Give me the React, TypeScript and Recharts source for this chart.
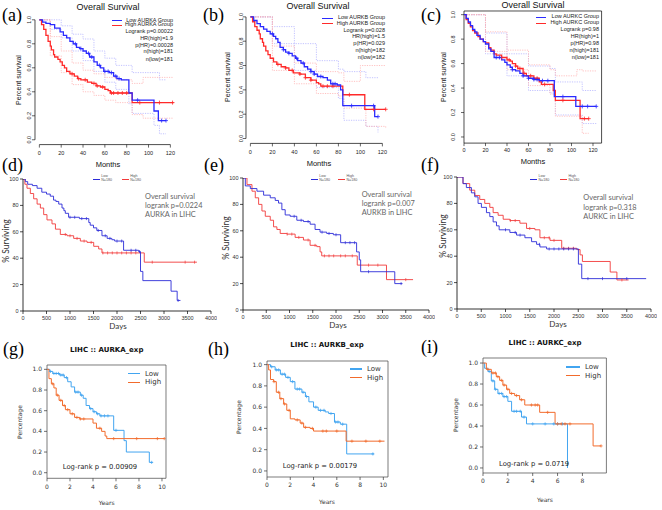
import React from "react";
import { ComposedChart, Line, Scatter, XAxis, YAxis, ReferenceLine, ReferenceArea } from "recharts";

type Pt = [number, number];

// ---------- (a)-(c): overall survival, months ----------
const monthTicks = [0, 20, 40, 60, 80, 100, 120];
const fracTicks = [0, 0.2, 0.4, 0.6, 0.8, 1.0];

const aLow: Pt[] = [[0, 1], [3, 0.98], [6, 0.97], [10, 0.96], [14, 0.93], [19, 0.9], [22, 0.87], [25, 0.85], [28, 0.82], [31, 0.8], [34, 0.77], [37, 0.76], [40, 0.74], [43, 0.72], [46, 0.69], [50, 0.65], [53, 0.62], [56, 0.6], [59, 0.57], [64, 0.56], [68, 0.53], [71, 0.51], [75, 0.5], [82, 0.39], [85, 0.33], [105, 0.24], [109, 0.16], [116, 0.16]];
const aHigh: Pt[] = [[0, 1], [2, 0.96], [4, 0.92], [6, 0.87], [8, 0.82], [10, 0.78], [11, 0.75], [13, 0.71], [14, 0.69], [17, 0.67], [19, 0.65], [21, 0.62], [23, 0.6], [25, 0.57], [28, 0.55], [32, 0.53], [35, 0.51], [38, 0.5], [44, 0.48], [48, 0.47], [52, 0.45], [56, 0.44], [60, 0.42], [63, 0.41], [65, 0.39], [85, 0.31], [123, 0.31]];
const aLowUp: Pt[] = [[0, 1], [10, 1], [20, 0.95], [30, 0.88], [40, 0.84], [50, 0.74], [60, 0.68], [70, 0.62], [82, 0.62], [85, 0.56], [105, 0.56], [110, 0.5], [116, 0.5]];
const aLowLo: Pt[] = [[0, 1], [10, 0.92], [20, 0.85], [30, 0.74], [40, 0.66], [50, 0.57], [60, 0.48], [70, 0.42], [82, 0.3], [85, 0.22], [105, 0.12], [110, 0.05], [116, 0.05]];
const aHighUp: Pt[] = [[0, 1], [10, 0.86], [20, 0.74], [30, 0.64], [40, 0.58], [50, 0.55], [60, 0.52], [70, 0.5], [85, 0.47], [95, 0.52], [123, 0.52]];
const aHighLo: Pt[] = [[0, 1], [10, 0.7], [20, 0.56], [30, 0.46], [40, 0.4], [50, 0.37], [60, 0.33], [70, 0.31], [85, 0.21], [95, 0.18], [123, 0.18]];
const aLowCens = [33, 38, 45, 48, 55, 60, 63, 66, 70, 73, 90, 112, 116];
const aHighCens = [30, 36, 42, 50, 53, 58, 66, 68, 72, 76, 80, 92, 110, 122];

const bLow: Pt[] = [[0, 1], [3, 0.97], [6, 0.945], [9, 0.92], [12, 0.9], [15, 0.88], [18, 0.86], [21, 0.84], [23, 0.82], [25, 0.79], [27, 0.75], [30, 0.73], [32, 0.71], [35, 0.7], [38, 0.68], [41, 0.66], [43, 0.64], [46, 0.62], [49, 0.59], [52, 0.57], [55, 0.55], [58, 0.53], [61, 0.51], [66, 0.5], [70, 0.48], [73, 0.45], [79, 0.44], [82, 0.4], [84, 0.27], [113, 0.18], [116, 0.18]];
const bHigh: Pt[] = [[0, 1], [2, 0.96], [4, 0.92], [6, 0.89], [8, 0.86], [9, 0.82], [11, 0.79], [12, 0.76], [14, 0.72], [16, 0.69], [18, 0.66], [21, 0.63], [24, 0.61], [28, 0.59], [32, 0.58], [35, 0.56], [39, 0.54], [45, 0.53], [50, 0.5], [55, 0.48], [60, 0.46], [62, 0.45], [64, 0.43], [84, 0.36], [104, 0.24], [123, 0.24]];
const bLowUp: Pt[] = [[0, 1], [20, 0.92], [40, 0.78], [60, 0.64], [80, 0.57], [85, 0.55], [105, 0.5], [116, 0.5]];
const bLowLo: Pt[] = [[0, 1], [20, 0.78], [40, 0.56], [60, 0.42], [80, 0.33], [85, 0.15], [105, 0.1], [116, 0.05]];
const bHighUp: Pt[] = [[0, 1], [20, 0.76], [40, 0.62], [60, 0.55], [80, 0.54], [85, 0.47], [100, 0.6], [123, 0.6]];
const bHighLo: Pt[] = [[0, 1], [20, 0.56], [40, 0.45], [60, 0.37], [80, 0.35], [85, 0.25], [105, 0.1], [123, 0.08]];
const bLowCens = [20, 30, 35, 42, 48, 55, 58, 64, 75, 77, 92, 112, 116];
const bHighCens = [25, 32, 38, 45, 50, 55, 66, 70, 75, 90, 112, 123];

const cLow: Pt[] = [[0, 1], [2, 0.97], [4, 0.94], [6, 0.91], [8, 0.88], [10, 0.86], [12, 0.83], [15, 0.8], [18, 0.78], [20, 0.76], [23, 0.72], [25, 0.7], [28, 0.65], [35, 0.63], [38, 0.61], [40, 0.59], [43, 0.57], [45, 0.55], [48, 0.54], [52, 0.52], [55, 0.5], [60, 0.48], [65, 0.47], [70, 0.46], [84, 0.33], [104, 0.25], [123, 0.25]];
const cHigh: Pt[] = [[0, 1], [2, 0.96], [4, 0.93], [6, 0.9], [8, 0.87], [10, 0.85], [13, 0.82], [15, 0.8], [18, 0.78], [20, 0.77], [23, 0.73], [25, 0.71], [28, 0.68], [30, 0.67], [35, 0.65], [40, 0.63], [43, 0.62], [45, 0.6], [48, 0.58], [50, 0.56], [55, 0.52], [58, 0.5], [65, 0.48], [70, 0.45], [72, 0.43], [83, 0.38], [85, 0.3], [108, 0.15], [116, 0.15]];
const cLowUp: Pt[] = [[0, 1], [20, 0.85], [40, 0.68], [60, 0.58], [80, 0.56], [85, 0.45], [105, 0.45], [110, 0.38], [123, 0.38]];
const cLowLo: Pt[] = [[0, 1], [20, 0.68], [40, 0.5], [60, 0.38], [80, 0.36], [85, 0.18], [105, 0.18], [110, 0.11], [123, 0.11]];
const cHighUp: Pt[] = [[0, 1], [20, 0.86], [40, 0.71], [60, 0.59], [80, 0.55], [85, 0.5], [105, 0.55], [110, 0.54], [123, 0.54]];
const cHighLo: Pt[] = [[0, 1], [20, 0.7], [40, 0.55], [60, 0.42], [80, 0.35], [85, 0.17], [105, 0.17], [110, 0.03], [116, 0.03]];
const cLowCens = [30, 33, 45, 55, 60, 65, 68, 73, 78, 92, 110, 115, 123];
const cHighCens = [35, 42, 48, 52, 56, 62, 68, 75, 92, 112, 116];

const aStats = ["Low AURKA Group", "High AURKA Group", "Logrank p=0.00022", "HR(high)=1.9", "p(HR)=0.00028", "n(high)=181", "n(low)=181"];
const bStats = ["Low AURKB Group", "High AURKB Group", "Logrank p=0.028", "HR(high)=1.5", "p(HR)=0.029", "n(high)=182", "n(low)=182"];
const cStats = ["Low AURKC Group", "High AURKC Group", "Logrank p=0.98", "HR(high)=1", "p(HR)=0.98", "n(high)=181", "n(low)=181"];

// ---------- (d)-(f): % surviving, days ----------
const dayTicks = [0, 500, 1000, 1500, 2000, 2500, 3000, 3500, 4000];
const pctTicks = [0, 20, 40, 60, 80, 100];

const dLow: Pt[] = [[0, 100], [50, 98], [100, 96], [200, 95], [300, 93], [400, 90], [500, 88.6], [580, 87], [650, 84], [700, 83], [760, 81], [830, 78], [870, 76], [900, 74], [970, 71], [1200, 70], [1400, 67], [1430, 65], [1500, 63], [1570, 61], [1680, 57], [1790, 55], [1890, 54], [1950, 53], [2140, 46], [2460, 45], [2500, 30], [2550, 23], [3150, 15], [3280, 8], [3350, 8]];
const dHigh: Pt[] = [[0, 100], [40, 96], [85, 93], [156, 89], [227, 85], [300, 81], [370, 78], [440, 73], [510, 69], [617, 66], [690, 62], [794, 58], [936, 57], [1078, 55], [1220, 53], [1362, 52], [1504, 49], [1610, 47], [1680, 44], [2580, 37], [3700, 37]];
const dLowCens = [1000, 1100, 1250, 1350, 1600, 1750, 1850, 2000, 2100, 2300, 2400, 2480, 3300];
const dHighCens = [900, 1000, 1150, 1300, 1450, 1700, 1800, 1900, 2000, 2100, 2200, 2300, 2400, 2750, 3450, 3650];

const eLow: Pt[] = [[0, 100], [50, 94], [157, 92], [300, 90], [443, 87], [586, 85], [693, 83], [764, 81], [836, 76], [907, 72], [1014, 71], [1157, 68], [1300, 67], [1443, 65], [1550, 61], [1657, 59], [1800, 58], [1943, 57], [2100, 51], [2443, 44], [2500, 38], [2530, 29], [3264, 20], [3430, 20]];
const eHigh: Pt[] = [[0, 100], [86, 95], [193, 90], [264, 85], [336, 80], [407, 75], [479, 71], [586, 68], [657, 63], [729, 61], [800, 58], [943, 57.5], [1121, 55], [1300, 53], [1443, 49], [1586, 48], [1657, 44], [1693, 41], [2457, 34], [3086, 23], [3657, 23]];
const eLowCens = [1100, 1250, 1400, 1700, 1850, 2000, 2200, 2300, 2400, 2700, 3400];
const eHighCens = [950, 1050, 1200, 1400, 1550, 1750, 1850, 1950, 2100, 2200, 2350, 2700, 2900, 3500];

const fLow: Pt[] = [[0, 100], [124, 95], [193, 92], [297, 88], [366, 85], [434, 80], [503, 77], [607, 73], [676, 70], [745, 66], [814, 63], [869, 60], [1090, 58], [1228, 56], [1400, 54], [1538, 51], [1641, 49], [1710, 47], [1848, 45.5], [2503, 34], [2572, 23], [3900, 23]];
const fHigh: Pt[] = [[0, 100], [124, 95], [262, 90], [366, 86], [469, 83], [572, 80], [676, 77], [745, 73], [848, 71], [952, 68], [1090, 67], [1297, 65], [1434, 61], [1607, 60], [1710, 54], [1917, 52], [2159, 46], [2469, 45], [2538, 41], [2586, 36], [3159, 28], [3297, 22], [3538, 22]];
const fLowCens = [1000, 1200, 1300, 1700, 1900, 2000, 2100, 2200, 2300, 2400, 2700, 3000, 3500];
const fHighCens = [1100, 1200, 1500, 1800, 1900, 2000, 2200, 2300, 2400, 3400];

const dNotes = ["Overall survival", "logrank p=0.0224", "AURKA in LIHC"];
const eNotes = ["Overall survival", "logrank p=0.007", "AURKB in LIHC"];
const fNotes = ["Overall survival", "logrank p=0.318", "AURKC in LIHC"];

// ---------- (g)-(i): percentage, years ----------
const yearTicks10 = [0, 2, 4, 6, 8, 10];
const yearTicks8 = [0, 2, 4, 6, 8];

const gLow: Pt[] = [[0, 1], [0.23, 0.98], [0.5, 0.96], [1.1, 0.945], [1.5, 0.92], [1.8, 0.88], [2.1, 0.83], [2.4, 0.78], [2.9, 0.75], [3.15, 0.72], [3.4, 0.65], [3.7, 0.62], [4.0, 0.59], [4.3, 0.57], [4.6, 0.55], [5.8, 0.41], [6.7, 0.31], [6.9, 0.2], [8.9, 0.1], [9.2, 0.1]];
const gHigh: Pt[] = [[0, 1], [0.17, 0.91], [0.38, 0.86], [0.6, 0.82], [0.8, 0.75], [1.05, 0.7], [1.35, 0.65], [1.6, 0.61], [2.0, 0.57], [2.4, 0.535], [2.85, 0.52], [4.0, 0.48], [4.3, 0.43], [4.75, 0.4], [5.05, 0.355], [5.2, 0.33], [10.2, 0.33]];
const gLowCens = [0.3, 0.6, 0.8, 1.0, 1.2, 1.4, 1.7, 2.5, 2.7, 3.0, 3.8, 4.1, 4.4, 4.7, 5.0, 5.3, 6.0, 9.1];
const gHighCens = [0.5, 0.9, 1.2, 1.5, 1.8, 2.2, 2.6, 2.9, 3.2, 4.6, 5.8, 7.8, 9.6, 10.2];

const hLow: Pt[] = [[0, 1], [0.3, 0.98], [0.7, 0.95], [1.15, 0.91], [1.6, 0.88], [2.0, 0.84], [2.4, 0.77], [3.0, 0.74], [3.3, 0.7], [3.6, 0.65], [4.0, 0.6], [4.4, 0.57], [5.0, 0.555], [5.3, 0.54], [5.8, 0.46], [6.3, 0.44], [6.85, 0.16], [9.2, 0.16]];
const hHigh: Pt[] = [[0, 1], [0.14, 0.95], [0.3, 0.86], [0.57, 0.84], [0.8, 0.74], [1.1, 0.68], [1.43, 0.63], [1.7, 0.57], [2.0, 0.49], [2.4, 0.48], [2.85, 0.45], [3.15, 0.41], [3.7, 0.4], [4.0, 0.375], [6.8, 0.28], [10.1, 0.28]];
const hLowCens = [0.4, 0.8, 1.0, 1.3, 1.5, 1.8, 2.2, 2.6, 2.8, 3.1, 3.4, 4.2, 4.6, 4.9, 5.5, 5.9, 6.1, 6.5, 9.1];
const hHighCens = [0.6, 1.0, 1.2, 1.5, 1.9, 2.6, 3.0, 3.3, 3.9, 4.8, 5.1, 6.0, 7.3, 8.5, 9.7];

const iLow: Pt[] = [[0, 1], [0.13, 0.95], [0.4, 0.92], [0.67, 0.83], [0.94, 0.75], [1.2, 0.71], [1.6, 0.68], [2.0, 0.635], [2.3, 0.54], [3.1, 0.485], [3.5, 0.42], [6.8, 0.0]];
const iHigh: Pt[] = [[0, 1], [0.27, 0.94], [0.67, 0.905], [1.07, 0.87], [1.34, 0.835], [1.6, 0.79], [1.9, 0.75], [2.15, 0.71], [2.55, 0.69], [2.95, 0.65], [3.36, 0.6], [4.56, 0.53], [5.8, 0.42], [8.86, 0.21], [9.5, 0.21]];
const iLowCens = [0.5, 0.8, 1.0, 1.3, 1.5, 1.7, 1.9, 2.5, 2.7, 3.0, 3.3, 4.0, 5.0, 5.7, 6.0, 6.4];
const iHighCens = [0.4, 0.8, 1.0, 1.2, 1.5, 1.7, 2.0, 2.3, 2.7, 3.1, 3.9, 4.2, 4.4, 5.2, 6.0, 6.3, 6.6, 7.0, 9.5];

// ---------- helpers ----------
const rows = (pts: Pt[]) => pts.map(([t, s]) => ({ t, s }));
const survAt = (pts: Pt[], t: number) => {
  let s = pts[0][1];
  for (const [pt, ps] of pts) if (pt <= t) s = ps;
  return s;
};
const censRows = (pts: Pt[], times: number[]) => times.map((t) => ({ t, s: survAt(pts, t) }));

const plus = (color: string, r: number, w = 0.8) => (p: any) => (
  <path d={`M${p.cx - r},${p.cy}H${p.cx + r}M${p.cx},${p.cy - r}V${p.cy + r}`} stroke={color} strokeWidth={w} fill="none" />
);
const vtick = (color: string, r: number) => (p: any) => (
  <path d={`M${p.cx},${p.cy - r}V${p.cy + r}`} stroke={color} strokeWidth={0.7} fill="none" />
);

const R_FONT = "'Liberation Sans', Arial, sans-serif";
const P_FONT = "Lato, 'Open Sans', sans-serif";
const Y_FONT = "'DejaVu Sans', sans-serif";
const SERIF = "'Liberation Serif', 'DejaVu Serif', serif";

const PL = 36, PR = 6, PT = 6, PB = 24;

const T = ({ x, y, children, size, font, color = "#000", anchor = "start", weight = 400, rotate = false }: any) => {
  const tx = anchor === "middle" ? "-50%" : anchor === "end" ? "-100%" : "0";
  return (
    <div
      style={{
        position: "absolute", left: x, top: y, fontSize: size, fontFamily: font, color, fontWeight: weight,
        whiteSpace: "nowrap", lineHeight: 1, transform: `translate(${rotate ? "-50%" : tx}, -50%)${rotate ? " rotate(-90deg)" : ""}`,
      }}
    >
      {children}
    </div>
  );
};

const Seg = ({ x1, x2, y, color, w = 1 }: any) => (
  <div style={{ position: "absolute", left: x1, top: y - w / 2, width: x2 - x1, height: w, background: color }} />
);

const RYTick = (p: any) => (
  <text x={p.x} y={p.y} transform={`rotate(-90 ${p.x} ${p.y})`} textAnchor="middle" fontSize={5.5} fill="#222" fontFamily={R_FONT}>
    {Number(p.payload.value).toFixed(1)}
  </text>
);

// ---------- layout ----------
const R_BLUE = "#2a2aff", R_RED = "#ff2a2a", R_BLUE_CI = "#b4b4ff", R_RED_CI = "#ffb2b2";
const P_BLUE = "#2b2bd8", P_RED = "#f23a3a";
const Y_BLUE = "#42a5f0", Y_RED = "#f26b2c";

const layA = { rect: [34.9, 15.2, 179.0, 144.8], xDom: [-4, 128], yDom: [-0.04, 1.04], box: false, yMargin: 1, xMargin: 4 };
const layB = { rect: [245.6, 11.8, 390.8, 143.2], xDom: [-4, 128], yDom: [-0.04, 1.04], box: false, yMargin: 0, xMargin: 4 };
const layC = { rect: [464, 11.3, 601.6, 143.4], xDom: [0, 128], yDom: [-0.05, 1.03], box: true, yMargin: 6, xMargin: 2.3 };

const layD = { rect: [23, 179, 211, 311] };
const layE = { rect: [243, 178, 429, 310] };
const layF = { rect: [457, 177, 651, 309] };

const layG = { rect: [47, 365, 166, 478.3], xDom: [0, 10.35], yDom: [-0.054, 1.042] };
const layH = { rect: [267, 360.7, 388, 476.7], xDom: [0, 10.4], yDom: [-0.057, 1.034] };
const layI = { rect: [483.3, 358.3, 606.7, 473.3], xDom: [0, 9.93], yDom: [-0.048, 1.048] };

function RPanel({ L, S }: any) {
  const [x0, y0, x1, y1] = L.rect;
  const yMin = L.yDom[0];
  const ci = (pts: Pt[], color: string, k: string) => (
    <Line key={k} data={rows(pts)} dataKey="s" type="stepAfter" stroke={color} strokeWidth={0.8} strokeDasharray="1.2 1.2" dot={false} activeDot={false} isAnimationActive={false} />
  );
  return (
    <div style={{ position: "absolute", left: x0 - PL, top: y0 - PT }}>
      <ComposedChart width={x1 - x0 + PL + PR} height={y1 - y0 + PT + PB} margin={{ top: PT, right: PR, bottom: 0, left: 0 }}>
        <XAxis type="number" dataKey="t" domain={L.xDom} ticks={monthTicks} allowDataOverflow height={PB} interval={0}
          axisLine={false} tickLine={{ stroke: "#000", strokeWidth: 0.6 }} tickSize={3} tickMargin={L.xMargin}
          tick={{ fontSize: 5.5, fill: "#222", fontFamily: R_FONT }} />
        <YAxis type="number" dataKey="s" domain={L.yDom} ticks={fracTicks} allowDataOverflow width={PL} interval={0}
          axisLine={false} tickLine={{ stroke: "#000", strokeWidth: 0.6 }} tickSize={3} tickMargin={L.yMargin}
          tick={(p: any) => <RYTick {...p} />} />
        {L.box ? (
          <ReferenceArea x1={L.xDom[0]} x2={L.xDom[1]} y1={L.yDom[0]} y2={L.yDom[1]} fill="none" fillOpacity={0} stroke="#000" strokeWidth={0.7} ifOverflow="visible" />
        ) : null}
        {!L.box ? (
          <ReferenceLine segment={[{ x: monthTicks[0], y: yMin }, { x: monthTicks[monthTicks.length - 1], y: yMin }]} stroke="#000" strokeWidth={0.7} ifOverflow="visible" />
        ) : null}
        {!L.box ? (
          <ReferenceLine segment={[{ x: L.xDom[0], y: fracTicks[0] }, { x: L.xDom[0], y: fracTicks[fracTicks.length - 1] }]} stroke="#000" strokeWidth={0.7} ifOverflow="visible" />
        ) : null}
        {ci(S.lowUp, R_BLUE_CI, "lu")}
        {ci(S.lowLo, R_BLUE_CI, "ll")}
        {ci(S.highUp, R_RED_CI, "hu")}
        {ci(S.highLo, R_RED_CI, "hl")}
        <Line data={rows(S.high)} dataKey="s" type="stepAfter" stroke={R_RED} strokeWidth={1.3} dot={false} activeDot={false} isAnimationActive={false} />
        <Line data={rows(S.low)} dataKey="s" type="stepAfter" stroke={R_BLUE} strokeWidth={1.3} dot={false} activeDot={false} isAnimationActive={false} />
        <Scatter data={censRows(S.high, S.highC)} dataKey="s" shape={plus(R_RED, 2)} isAnimationActive={false} />
        <Scatter data={censRows(S.low, S.lowC)} dataKey="s" shape={plus(R_BLUE, 2)} isAnimationActive={false} />
      </ComposedChart>
    </div>
  );
}

function PPanel({ L, S }: any) {
  const [x0, y0, x1, y1] = L.rect;
  return (
    <div style={{ position: "absolute", left: x0 - PL, top: y0 - PT }}>
      <ComposedChart width={x1 - x0 + PL + PR} height={y1 - y0 + PT + PB} margin={{ top: PT, right: PR, bottom: 0, left: 0 }}>
        <XAxis type="number" dataKey="t" domain={[dayTicks[0], dayTicks[dayTicks.length - 1]]} ticks={dayTicks} allowDataOverflow height={PB} interval={0}
          axisLine={{ stroke: "#000", strokeWidth: 0.8 }} tickLine={{ stroke: "#000", strokeWidth: 0.7 }} tickSize={3} tickMargin={2}
          tick={{ fontSize: 5.5, fill: "#333", fontFamily: R_FONT }} />
        <YAxis type="number" dataKey="s" domain={[pctTicks[0], pctTicks[pctTicks.length - 1]]} ticks={pctTicks} allowDataOverflow width={PL} interval={0}
          axisLine={{ stroke: "#000", strokeWidth: 0.8 }} tickLine={{ stroke: "#000", strokeWidth: 0.7 }} tickSize={3} tickMargin={1.5}
          tick={{ fontSize: 5.5, fill: "#333", fontFamily: R_FONT }} />
        <Line data={rows(S.high)} dataKey="s" type="stepAfter" stroke={P_RED} strokeWidth={0.9} dot={false} activeDot={false} isAnimationActive={false} />
        <Line data={rows(S.low)} dataKey="s" type="stepAfter" stroke={P_BLUE} strokeWidth={0.9} dot={false} activeDot={false} isAnimationActive={false} />
        <Scatter data={censRows(S.high, S.highC)} dataKey="s" shape={vtick(P_RED, 1.5)} isAnimationActive={false} />
        <Scatter data={censRows(S.low, S.lowC)} dataKey="s" shape={vtick(P_BLUE, 1.5)} isAnimationActive={false} />
      </ComposedChart>
    </div>
  );
}

function YPanel({ L, S, ticks }: any) {
  const [x0, y0, x1, y1] = L.rect;
  return (
    <div style={{ position: "absolute", left: x0 - PL, top: y0 - PT }}>
      <ComposedChart width={x1 - x0 + PL + PR} height={y1 - y0 + PT + PB} margin={{ top: PT, right: PR, bottom: 0, left: 0 }}>
        <XAxis type="number" dataKey="t" domain={L.xDom} ticks={ticks} allowDataOverflow height={PB} interval={0}
          axisLine={false} tickLine={{ stroke: "#333", strokeWidth: 0.7 }} tickSize={3} tickMargin={3}
          tick={{ fontSize: 6, fill: "#333", fontFamily: Y_FONT }} />
        <YAxis type="number" dataKey="s" domain={L.yDom} ticks={fracTicks} allowDataOverflow width={PL} interval={0}
          axisLine={false} tickLine={{ stroke: "#333", strokeWidth: 0.7 }} tickSize={3} tickMargin={2}
          tickFormatter={(v: number) => v.toFixed(1)} tick={{ fontSize: 6, fill: "#333", fontFamily: Y_FONT }} />
        <ReferenceArea x1={L.xDom[0]} x2={L.xDom[1]} y1={L.yDom[0]} y2={L.yDom[1]} fill="none" fillOpacity={0} stroke="#444" strokeWidth={0.7} ifOverflow="visible" />
        <Line data={rows(S.low)} dataKey="s" type="stepAfter" stroke={Y_BLUE} strokeWidth={1} dot={false} activeDot={false} isAnimationActive={false} />
        <Line data={rows(S.high)} dataKey="s" type="stepAfter" stroke={Y_RED} strokeWidth={1} dot={false} activeDot={false} isAnimationActive={false} />
        <Scatter data={censRows(S.low, S.lowC)} dataKey="s" shape={plus(Y_BLUE, 1.6, 0.7)} isAnimationActive={false} />
        <Scatter data={censRows(S.high, S.highC)} dataKey="s" shape={plus(Y_RED, 1.6, 0.7)} isAnimationActive={false} />
      </ComposedChart>
    </div>
  );
}

function RText({ title, tx, ty, lx, ly, yl, stats, right, rowsY, seg }: any) {
  return (
    <>
      <T x={tx} y={ty} size={9} font={R_FONT} anchor="middle" color="#111">{title}</T>
      <T x={lx} y={ly} size={7.5} font={R_FONT} anchor="middle" color="#111">Months</T>
      <T x={yl[0]} y={yl[1]} size={7} font={R_FONT} rotate color="#111">Percent survival</T>
      <Seg x1={seg[0]} x2={seg[1]} y={rowsY[0]} color={R_BLUE} w={1.2} />
      <Seg x1={seg[0]} x2={seg[1]} y={rowsY[1]} color={R_RED} w={1.2} />
      {stats.map((s: string, i: number) => (
        <T key={i} x={right} y={rowsY[i]} size={5.5} font={R_FONT} anchor="end" color="#222">{s}</T>
      ))}
    </>
  );
}

function PText({ notes, nx, ny, dx, dy, yl, legX }: any) {
  return (
    <>
      {notes.map((s: string, i: number) => (
        <T key={i} x={nx} y={ny + i * 9.2} size={7.4} font={P_FONT} color="#666">{s}</T>
      ))}
      <T x={dx} y={dy} size={8} font={P_FONT} anchor="middle" color="#333">Days</T>
      <T x={yl[0]} y={yl[1]} size={8.5} font={P_FONT} rotate color="#333">% Surviving</T>
      <Seg x1={legX[0]} x2={legX[0] + 7} y={179.5} color={P_BLUE} w={1.1} />
      <T x={legX[0] + 8.5} y={176.8} size={3.6} font={R_FONT} color="#555">Low</T>
      <T x={legX[0] + 8.5} y={180.6} size={3.6} font={R_FONT} color="#555">N=180</T>
      <Seg x1={legX[1]} x2={legX[1] + 7} y={179.5} color={P_RED} w={1.1} />
      <T x={legX[1] + 8.5} y={176.8} size={3.6} font={R_FONT} color="#555">High</T>
      <T x={legX[1] + 8.5} y={180.6} size={3.6} font={R_FONT} color="#555">N=180</T>
    </>
  );
}

function YText({ title, cx, ty, yy, yl, seg, legY, lr }: any) {
  return (
    <>
      <T x={cx} y={ty} size={7} font={Y_FONT} weight={700} anchor="middle" color="#111">{title}</T>
      <T x={cx} y={yy} size={6} font={Y_FONT} anchor="middle" color="#333">Years</T>
      <T x={yl[0]} y={yl[1]} size={6} font={Y_FONT} rotate color="#333">Percentage</T>
      <Seg x1={seg[0]} x2={seg[1]} y={legY} color={Y_BLUE} w={1.1} />
      <T x={seg[1] + 5} y={legY} size={7} font={Y_FONT} color="#333">Low</T>
      <Seg x1={seg[0]} x2={seg[1]} y={legY + 8.8} color={Y_RED} w={1.1} />
      <T x={seg[1] + 5} y={legY + 8.8} size={7} font={Y_FONT} color="#333">High</T>
      <T x={lr[0]} y={lr[1]} size={6.8} font={Y_FONT} anchor="middle" color="#222">{lr[2]}</T>
    </>
  );
}

const Tag = ({ x, y, s }: any) => <T x={x} y={y} size={18} font={SERIF} color="#000">{s}</T>;

export default function App() {
  return (
    <div style={{ position: "absolute", left: 0, top: 0, width: 662, height: 510, background: "#fff", overflow: "hidden" }}>
      <RPanel L={layA} S={{ low: aLow, high: aHigh, lowUp: aLowUp, lowLo: aLowLo, highUp: aHighUp, highLo: aHighLo, lowC: aLowCens, highC: aHighCens }} />
      <RPanel L={layB} S={{ low: bLow, high: bHigh, lowUp: bLowUp, lowLo: bLowLo, highUp: bHighUp, highLo: bHighLo, lowC: bLowCens, highC: bHighCens }} />
      <RPanel L={layC} S={{ low: cLow, high: cHigh, lowUp: cLowUp, lowLo: cLowLo, highUp: cHighUp, highLo: cHighLo, lowC: cLowCens, highC: cHighCens }} />
      <RText title="Overall Survival" tx={108} ty={7} lx={108} ly={165} yl={[18, 80]} stats={aStats} right={173} rowsY={[20.7, 25.2, 32.3, 39, 45.7, 52.3, 59.5]} seg={[111.7, 121.7]} />
      <RText title="Overall Survival" tx={318} ty={6} lx={319} ly={164} yl={[227, 77]} stats={bStats} right={385} rowsY={[18.3, 23.5, 31, 37.3, 44, 51, 58.3]} seg={[321.7, 333.3]} />
      <RText title="Overall Survival" tx={533} ty={5} lx={533} ly={162} yl={[443, 77]} stats={cStats} right={599} rowsY={[17.3, 23.3, 30, 36.7, 43.7, 50.7, 57.7]} seg={[536, 546]} />

      <PPanel L={layD} S={{ low: dLow, high: dHigh, lowC: dLowCens, highC: dHighCens }} />
      <PPanel L={layE} S={{ low: eLow, high: eHigh, lowC: eLowCens, highC: eHighCens }} />
      <PPanel L={layF} S={{ low: fLow, high: fHigh, lowC: fLowCens, highC: fHighCens }} />
      <PText notes={dNotes} nx={145} ny={196.5} dx={118} dy={325.7} yl={[6, 241]} legX={[92.7, 121.7]} />
      <PText notes={eNotes} nx={361.7} ny={195} dx={338} dy={325} yl={[226, 238]} legX={[310.7, 338]} />
      <PText notes={fNotes} nx={583.3} ny={198.3} dx={558} dy={324} yl={[443, 236]} legX={[530, 560]} />

      <YPanel L={layG} S={{ low: gLow, high: gHigh, lowC: gLowCens, highC: gHighCens }} ticks={yearTicks10} />
      <YPanel L={layH} S={{ low: hLow, high: hHigh, lowC: hLowCens, highC: hHighCens }} ticks={yearTicks10} />
      <YPanel L={layI} S={{ low: iLow, high: iHigh, lowC: iLowCens, highC: iHighCens }} ticks={yearTicks8} />
      <YText title="LIHC  ::  AURKA_exp" cx={106.7} ty={350} yy={503.3} yl={[20, 421.7]} seg={[128, 140]} legY={373.5} lr={[100, 467, "Log-rank p = 0.00909"]} />
      <YText title="LIHC  ::  AURKB_exp" cx={327} ty={345} yy={501.7} yl={[239, 417]} seg={[350, 362]} legY={369} lr={[320, 466, "Log-rank p = 0.00179"]} />
      <YText title="LIHC  ::  AURKC_exp" cx={545} ty={343.3} yy={500} yl={[455.7, 415]} seg={[566, 580]} legY={367} lr={[534, 464, "Log-rank p = 0.0719"]} />

      <Tag x={2} y={15} s="(a)" />
      <Tag x={203} y={15} s="(b)" />
      <Tag x={421} y={15} s="(c)" />
      <Tag x={2} y={165} s="(d)" />
      <Tag x={204} y={165} s="(e)" />
      <Tag x={421} y={165} s="(f)" />
      <Tag x={3} y={349} s="(g)" />
      <Tag x={208} y={349} s="(h)" />
      <Tag x={421} y={347} s="(i)" />
    </div>
  );
}
